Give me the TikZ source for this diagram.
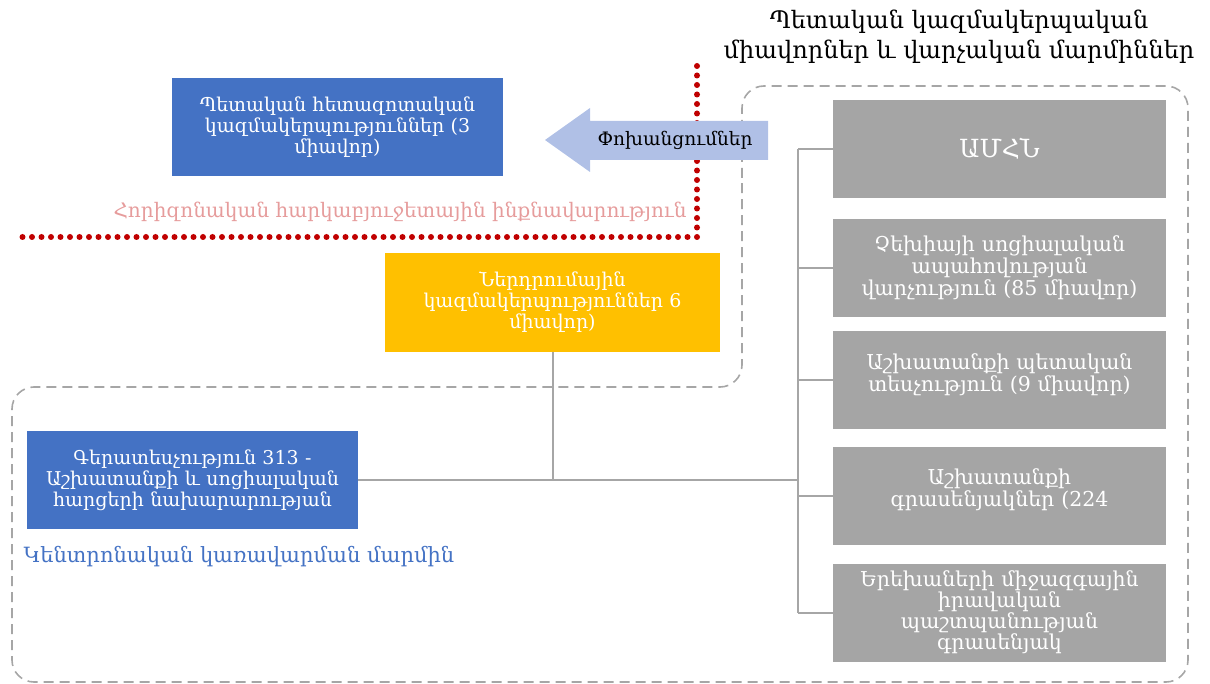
\documentclass[tikz,border=0pt]{standalone}
\usepackage{fontspec}
\setmainfont{DejaVu Serif}
\definecolor{bluebox}{HTML}{4472C4}
\definecolor{yellowbox}{HTML}{FFC000}
\definecolor{greybox}{HTML}{A5A5A5}
\definecolor{connline}{HTML}{A6A6A6}
\definecolor{reddot}{HTML}{C00000}
\definecolor{pinktext}{HTML}{E69C9C}
\definecolor{arrowfill}{HTML}{B0C0E6}
\begin{document}
\begin{tikzpicture}[x=1pt,y=-1pt,
  orgbox/.style={minimum width=333, minimum height=98, inner sep=0pt, align=center,
    text=white, font=\fontsize{19}{21}\selectfont},
  bluebx/.style={orgbox, fill=bluebox},
  yellowbx/.style={orgbox, fill=yellowbox},
  greybx/.style={orgbox, fill=greybox, text width=325, font=\fontsize{20.5}{22}\selectfont},
  conn/.style={draw=connline, line width=2pt},
  bound/.style={draw=connline, line width=1.6pt, dash pattern=on 10pt off 6pt, rounded corners=22pt},
  reddots/.style={draw=reddot, line width=6pt, line cap=round, dash pattern=on 0pt off 9.5pt}]
\useasboundingbox (0,0) rectangle (1210,684);

% title
\node[font=\fontsize{24}{30}\selectfont, align=center] (title) at (959,37)
  {Պետական կազմակերպական\\միավորներ և վարչական մարմիններ};

% dashed boundary
\draw[bound] (742,200) -- (742,86) -- (1188,86) -- (1188,682) -- (12,682) -- (12,387) -- (742,387) -- cycle;

% red dotted border
\draw[reddots] (697,66) -- (697,237) -- (22,237);

% arrow
\draw[fill=arrowfill, draw=none] (768,121) -- (590,121) -- (590,108) -- (545,140) -- (590,172) -- (590,160) -- (768,160) -- cycle;
\node[font=\fontsize{18.5}{20}\selectfont] (transfer) at (675,140) {Փոխանցումներ};

% boxes
\node[bluebx, minimum width=331, text width=320] (research) at (337.5,127)
  {Պետական հետազոտական\\կազմակերպություններ (3\\միավոր)};
\node[font=\fontsize{20}{22}\selectfont, text=pinktext] (horiz) at (400,212)
  {Հորիզոնական հարկաբյուջետային ինքնավարություն};
\node[yellowbx, minimum width=335, minimum height=99, text width=325] (invest) at (552.5,302.5)
  {Ներդրումային\\կազմակերպություններ 6\\միավոր)};
\node[bluebx, minimum width=331, text width=325] (ministry) at (192.5,480)
  {Գերատեսչություն 313 -\\Աշխատանքի և սոցիալական\\հարցերի նախարարության};
\node[font=\fontsize{21}{23}\selectfont, text=bluebox, anchor=west] (central) at (20,557)
  {Կենտրոնական կառավարման մարմին};

\node[greybx, font=\fontsize{25}{28}\selectfont] (g1) at (999.5,149) {ԱՄՀՆ};
\node[greybx] (g2) at (999.5,268) {Չեխիայի սոցիալական\\ապահովության\\վարչություն (85 միավոր)};
\node[greybx] (g3) at (999.5,380) {Աշխատանքի պետական\\տեսչություն (9 միավոր)\\[-8pt]\mbox{}};
\node[greybx] (g4) at (999.5,496) {Աշխատանքի\\գրասենյակներ (224\\[-6pt]\mbox{}};
\node[greybx, font=\fontsize{20.5}{20}\selectfont] (g5) at (999.5,612.5) {Երեխաների միջազգային\\իրավական\\պաշտպանության\\գրասենյակ};

% connectors
\coordinate (bustop) at (798,149);
\coordinate (busbot) at (798,612.5);
\draw[conn] (invest.south) -- (invest.south |- ministry.east);
\draw[conn] (ministry.east) -- (ministry.east -| bustop);
\draw[conn] (bustop) -- (busbot);
\foreach \g in {g1,g2,g3,g4,g5} {
  \draw[conn] (\g.west -| bustop) -- (\g.west);
}
\end{tikzpicture}
\end{document}
